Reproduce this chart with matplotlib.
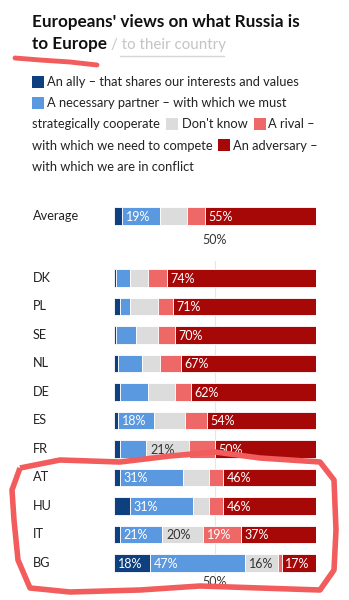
"""Europeans' views on what Russia is to Europe - stacked bar recreation."""

import matplotlib

matplotlib.use("Agg")
import matplotlib.pyplot as plt
from matplotlib.patches import FancyBboxPatch
from matplotlib.path import Path
from matplotlib.patches import PathPatch
import numpy as np

plt.rcParams["font.family"] = ["Lato", "DejaVu Sans"]

countries = ["Average", "DK", "PL", "SE", "NL", "DE", "ES", "FR", "AT", "HU", "IT", "BG"]
ally = [4, 1, 3, 1, 2, 3, 2, 3, 3, 8, 3, 18]
partner = [19, 7, 5, 10, 12, 14, 18, 13, 31, 31, 21, 47]
dont_know = [13, 9, 14, 11, 9, 13, 15, 21, 13, 8, 20, 16]
rival = [9, 9, 7, 8, 10, 8, 11, 13, 7, 7, 19, 2]
adversary = [55, 74, 71, 70, 67, 62, 54, 50, 46, 46, 37, 17]

series = [ally, partner, dont_know, rival, adversary]
colors = ["#0e3f7e", "#5a98e0", "#dcdcdc", "#ef6868", "#a60808"]
label_colors = ["white", "white", "#333333", "white", "white"]
LABEL_MIN = 16

W, H = 349, 600
fig = plt.figure(figsize=(W / 100, H / 100), dpi=100)
fig.patch.set_facecolor("white")


def fx(px):
    return px / W


def fy(py):
    return 1 - py / H


# row positions (row units, 1 row = 28.5 px)
ypos = np.array([0.0] + [2.175 + i for i in range(len(countries) - 1)])

ax = fig.add_axes([fx(114), fy(590), fx(202), (590 - 200) / H])
ax.set_xlim(0, 100)
ax.set_ylim(13.12, -0.561)
ax.axis("off")

ax.plot([50, 50], [ypos[1] - 0.6, 12.6], color="#e6e6e6", lw=0.8, zorder=0)

left = np.zeros(len(countries))
for vals, col, lcol in zip(series, colors, label_colors):
    vals = np.array(vals, dtype=float)
    ax.barh(ypos, vals, left=left, height=0.62, color=col,
            edgecolor="white", linewidth=0.6, zorder=2)
    for y, l, v in zip(ypos, left, vals):
        if v >= LABEL_MIN:
            ax.text(l + 1.8, y + 0.02, f"{int(v)}%", color=lcol, fontsize=9,
                    va="center", ha="left", zorder=3)
    left += vals

ax.text(50, 0.83, "50%", ha="center", va="center", fontsize=9, color="#333333")
ax.text(50, 12.85, "50%", ha="center", va="center", fontsize=9, color="#333333")

for y, name in zip(ypos, countries):
    fig.text(fx(33), fy(216 + 28.5 * y), name, fontsize=9.2, color="#222222",
             va="center", ha="left")

# title
fig.text(fx(32), fy(27), "Europeans' views on what Russia is", fontsize=12.3,
         fontweight="bold", color="#111111", va="baseline")
fig.text(fx(32), fy(49), "to Europe", fontsize=12.3, fontweight="bold",
         color="#111111", va="baseline")
fig.text(fx(111), fy(49), "/ to their country", fontsize=10.9, color="#c4c4c4",
         va="baseline")
fig.add_artist(plt.Line2D([fx(120), fx(224)], [fy(56), fy(56)], color="#d6d6d6", lw=1))

# legend
legend_fs = 9.3
sq = 12


def legend_square(x, ytop, col):
    fig.add_artist(FancyBboxPatch((fx(x), fy(ytop + sq)), fx(sq), sq / H,
                                  boxstyle="square,pad=0", color=col, lw=0))


def legend_text(x, ybase, s):
    fig.text(fx(x), fy(ybase), s, fontsize=legend_fs, color="#222222", va="baseline")


legend_square(32, 76, colors[0])
legend_text(47, 86, "An ally \u2013 that shares our interests and values")
legend_square(32, 97, colors[1])
legend_text(47, 107, "A necessary partner \u2013 with which we must")
legend_text(32, 128, "strategically cooperate")
legend_square(166, 118, colors[2])
legend_text(182, 128, "Don't know")
legend_square(254, 118, colors[3])
legend_text(268, 128, "A rival \u2013")
legend_text(32, 150, "with which we need to compete")
legend_square(218, 139, colors[4])
legend_text(233, 150, "An adversary \u2013")
legend_text(32, 171, "with which we are in conflict")

# hand-drawn red marks
red = "#f25c5c"
underline = [(15, 58), (40, 60), (70, 62), (97, 65)]
fig.add_artist(plt.Line2D([fx(p[0]) for p in underline], [fy(p[1]) for p in underline],
                          color=red, lw=3.5, solid_capstyle="round"))
loop = [(20, 468), (60, 460), (120, 462), (170, 456), (215, 452), (260, 458),
        (320, 462), (334, 480), (336, 530), (334, 570), (320, 590), (260, 588),
        (200, 586), (140, 590), (70, 592), (30, 588), (18, 560), (14, 520),
        (12, 490), (20, 468)]
fig.add_artist(PathPatch(Path([(fx(a), fy(b)) for a, b in loop]), fill=False,
                         edgecolor=red, lw=4, joinstyle="round",
                         transform=fig.transFigure))

fig.savefig("out.png", dpi=100)
